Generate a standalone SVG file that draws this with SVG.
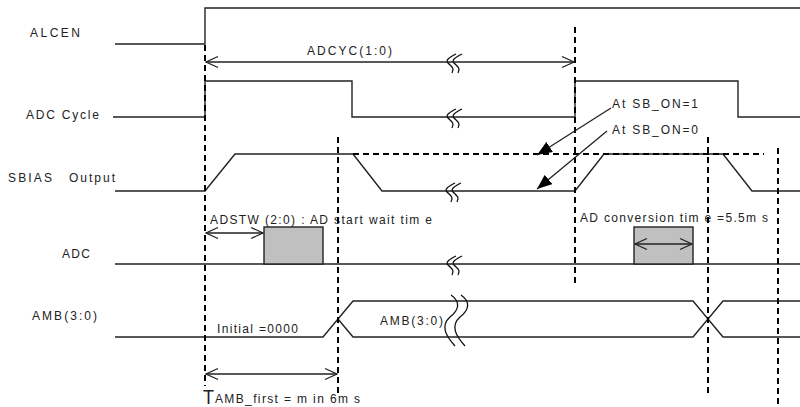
<svg xmlns="http://www.w3.org/2000/svg" width="800" height="407" viewBox="0 0 800 407">
<style>
.sig{fill:none;stroke:#222;stroke-width:1.4;stroke-linejoin:miter}
.dash{fill:none;stroke:#000;stroke-width:2;stroke-dasharray:6,4}
.ln{fill:none;stroke:#222;stroke-width:1.3}
.brk{fill:none;stroke:#111;stroke-width:1.3}
.box{fill:#c0c0c0;stroke:#222;stroke-width:1.4}
text{font-family:"Liberation Sans",Arial,sans-serif;font-size:12px;fill:#222}
</style>
<defs>
<marker id="oa" markerWidth="14" markerHeight="14" refX="13" refY="7" orient="auto-start-reverse" markerUnits="userSpaceOnUse">
<path d="M1,1.5 L13,7 L1,12.5" fill="none" stroke="#222" stroke-width="1.3"/>
</marker>
<marker id="fa" markerWidth="16" markerHeight="12" refX="15" refY="6" orient="auto" markerUnits="userSpaceOnUse">
<path d="M0,0 L15,6 L0,12 Z" fill="#000"/>
</marker>
</defs>
<rect width="800" height="407" fill="#fff"/>

<g id="alcen">
<text x="30" y="37" textLength="50" lengthAdjust="spacing">ALCEN</text>
<path class="sig" d="M115,44 H205 V8 H800"/>
</g>

<g id="adc-cycle">
<text x="26" y="119" textLength="73" lengthAdjust="spacing">ADC Cycle</text>
<path class="sig" d="M113,117 H205 V81 H352 V117 H575 V81 H738 V117 H800"/>
</g>

<g id="sbias">
<text x="8" y="182" textLength="44" lengthAdjust="spacing">SBIAS</text>
<text x="69" y="182" textLength="46" lengthAdjust="spacing">Output</text>
<path class="sig" d="M115,191 H205 L235,154 H353 L382,191 H575 L604,154 H723 L752,191 H800"/>
<path class="dash" d="M353,154 H764"/>
</g>

<g id="adc">
<text x="62" y="258" textLength="28" lengthAdjust="spacing">ADC</text>
<path class="sig" d="M115,264 H800"/>
<rect class="box" x="264" y="227" width="59" height="37"/>
<rect class="box" x="634" y="227" width="59" height="37"/>
<text x="210" y="224" textLength="222" lengthAdjust="spacing">ADSTW (2:0) : AD start wait tim e</text>
<text x="580" y="222" textLength="188" lengthAdjust="spacing">AD conversion tim e =5.5m s</text>
</g>

<g id="amb">
<text x="32" y="320" textLength="65" lengthAdjust="spacing">AMB(3:0)</text>
<path class="sig" d="M115,337 H323 L353,301 H693 L723,337 H800"/>
<path class="sig" d="M338,319 L353,337 H693 L723,301 H800"/>
<text x="217" y="333" textLength="81" lengthAdjust="spacing">Initial =0000</text>
<text x="380" y="325" textLength="63" lengthAdjust="spacing">AMB(3:0)</text>
</g>

<g id="breaks">
<path class="brk" d="M456,54 C450,57 445,60 448,63 C451,66 455,68 452,73"/>
<path class="brk" d="M462,54 C456,57 451,60 454,63 C457,66 461,68 458,73"/>
<path class="brk" d="M456,109 C450,112 445,115 448,118 C451,121 455,123 452,128"/>
<path class="brk" d="M462,109 C456,112 451,115 454,118 C457,121 461,123 458,128"/>
<path class="brk" d="M455,183 C449,186 444,189 447,192 C450,195 454,197 451,202"/>
<path class="brk" d="M461,183 C455,186 450,189 453,192 C456,195 460,197 457,202"/>
<path class="brk" d="M456,256 C450,259 445,262 448,265 C451,268 455,270 452,275"/>
<path class="brk" d="M462,256 C456,259 451,262 454,265 C457,268 461,270 458,275"/>
<path class="brk" d="M451,295 C461,302 459,310 450,317 C440,326 446,336 455,346"/>
<path class="brk" d="M461,295 C471,302 469,310 460,317 C450,326 456,336 465,346"/>
</g>

<g id="guides">
<path class="dash" d="M205,45 V386"/>
<path class="dash" d="M338,137 V394"/>
<path class="dash" d="M575,27 V283"/>
<path class="dash" d="M708,137 V396"/>
<path class="dash" d="M778,148 V407"/>
</g>

<g id="connectors">
<path class="ln" d="M206,62 H574" marker-start="url(#oa)" marker-end="url(#oa)"/>
<path class="ln" d="M206,233 H263" marker-start="url(#oa)" marker-end="url(#oa)"/>
<path class="ln" d="M635,244 H692" marker-start="url(#oa)" marker-end="url(#oa)"/>
<path class="ln" d="M206,374 H337" marker-start="url(#oa)" marker-end="url(#oa)"/>
<path class="ln" d="M611,108 L537,155" marker-end="url(#fa)"/>
<path class="ln" d="M607,131 L537,189" marker-end="url(#fa)"/>
</g>

<g id="labels">
<text x="307" y="55" textLength="85" lengthAdjust="spacing">ADCYC(1:0)</text>
<text x="612" y="108" textLength="86" lengthAdjust="spacing">At SB_ON=1</text>
<text x="612" y="134" textLength="86" lengthAdjust="spacing">At SB_ON=0</text>
<text x="203" y="404" style="font-size:21px" textLength="11" lengthAdjust="spacingAndGlyphs">T</text>
<text x="215" y="403" textLength="145" lengthAdjust="spacing">AMB_first = m in 6m s</text>
</g>
</svg>
